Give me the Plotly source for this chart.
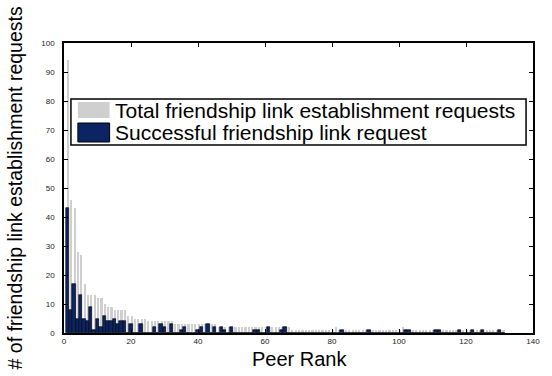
import plotly.graph_objects as go

# Peer ranks 1..131
rank = list(range(1, 132))

total_requests = [
    94, 46, 43, 28, 27, 17, 13, 13, 13, 12,
    12, 10, 9, 9, 8, 8, 8, 8, 6, 6,
    5, 5, 5, 5, 4, 4, 4, 4, 4, 4,
    4, 4, 3, 3, 3, 3, 3, 3, 3, 3,
    3, 3, 3, 3, 3, 2, 2, 2, 2, 2,
    2, 2, 2, 2, 2, 2, 2, 2, 2, 2,
    2, 2, 2, 2, 2, 2, 2, 1, 1, 1,
    1, 1, 1, 1, 1, 1, 1, 1, 1, 1,
    2, 1, 1, 1, 1, 1, 1, 1, 1, 1,
    1, 1, 1, 1, 1, 1, 1, 1, 1, 1,
    2, 1, 1, 1, 1, 1, 1, 1, 1, 1,
    1, 1, 1, 1, 1, 1, 1, 1, 1, 1,
    1, 1, 1, 1, 1, 1, 1, 1, 1, 1,
    1,
]

successful_requests = [
    43, 8, 17, 5, 13, 5, 4, 9, 1, 5,
    2, 6, 4, 4, 5, 3, 4, 4, 0, 3,
    0, 0, 3, 0, 0, 0, 2, 0, 3, 2,
    0, 3, 0, 0, 1, 2, 0, 0, 0, 1,
    2, 0, 3, 0, 2, 0, 2, 1, 0, 2,
    0, 0, 0, 0, 0, 0, 1, 1, 0, 0,
    2, 0, 0, 0, 1, 2, 0, 0, 0, 0,
    0, 0, 0, 0, 0, 0, 0, 0, 0, 0,
    0, 0, 1, 0, 0, 0, 0, 0, 0, 0,
    1, 0, 0, 0, 0, 0, 0, 0, 0, 0,
    0, 1, 1, 0, 0, 0, 0, 0, 0, 0,
    1, 1, 0, 0, 0, 0, 0, 1, 0, 0,
    0, 1, 0, 0, 1, 0, 0, 0, 0, 1,
    0,
]

x_ticks = [0, 20, 40, 60, 80, 100, 120, 140]
y_ticks = [0, 10, 20, 30, 40, 50, 60, 70, 80, 90, 100]

legend_labels = ["Total friendship link establishment requests",
                 "Successful friendship link request"]
x_title = "Peer Rank"
y_title = "# of friendship link establishment requests"

GRAY = "#cfcfcf"
NAVY = "#0b2464"
FONT = "Liberation Sans, Arial, sans-serif"

fig = go.Figure()
fig.add_trace(go.Bar(
    x=rank, y=total_requests, name=legend_labels[0],
    width=0.5, offset=0.0,
    marker=dict(color=GRAY, line=dict(width=0)),
    showlegend=False,
))
fig.add_trace(go.Bar(
    x=rank, y=successful_requests, name=legend_labels[1],
    width=1.0,
    marker=dict(color=NAVY, line=dict(color="black", width=0.6)),
    showlegend=False,
))

axis_common = dict(
    showgrid=False, zeroline=False, showline=True, linecolor="black",
    linewidth=1.5, mirror="allticks", ticks="inside", ticklen=4,
    tickcolor="black", tickwidth=1,
    tickfont=dict(family=FONT, size=8, color="#222"),
)

fig.update_layout(
    width=552, height=376,
    margin=dict(l=64, r=15, t=43, b=43),
    paper_bgcolor="white", plot_bgcolor="white",
    barmode="overlay", bargap=0,
    xaxis=dict(range=[0, 140], tickvals=x_ticks, **axis_common),
    yaxis=dict(range=[0, 100], tickvals=y_ticks, ticklabelstandoff=6, **axis_common),
)

def px_x(p):
    return (p - 64) / 473.0

def px_y(p):
    return (333 - p) / 290.0

shapes = [
    dict(type="rect", xref="paper", yref="paper",
         x0=px_x(71), x1=px_x(530), y0=px_y(145), y1=px_y(99),
         line=dict(color="black", width=1.5), fillcolor="white", layer="above"),
    dict(type="rect", xref="paper", yref="paper",
         x0=px_x(78), x1=px_x(110), y0=px_y(118), y1=px_y(102),
         line=dict(width=0), fillcolor=GRAY, layer="above"),
    dict(type="rect", xref="paper", yref="paper",
         x0=px_x(78), x1=px_x(110), y0=px_y(142), y1=px_y(123),
         line=dict(color="black", width=1), fillcolor=NAVY, layer="above"),
]

annotations = [
    dict(text=legend_labels[0], xref="paper", yref="paper",
         x=px_x(113), y=px_y(110), xanchor="left", yanchor="middle",
         showarrow=False, font=dict(family=FONT, size=21, color="black")),
    dict(text=legend_labels[1], xref="paper", yref="paper",
         x=px_x(113), y=px_y(132), xanchor="left", yanchor="middle",
         showarrow=False, font=dict(family=FONT, size=21, color="black")),
    dict(text=x_title, xref="paper", yref="paper",
         x=px_x(302), y=px_y(359), xanchor="center", yanchor="middle",
         showarrow=False, borderpad=0,
         font=dict(family=FONT, size=20, color="black")),
    dict(text=y_title, xref="paper", yref="paper",
         x=px_x(15), y=px_y(188), xanchor="center", yanchor="middle",
         textangle=-90, showarrow=False,
         font=dict(family=FONT, size=19.5, color="black")),
]

fig.update_layout(shapes=shapes, annotations=annotations)

fig.write_html("out.html")
